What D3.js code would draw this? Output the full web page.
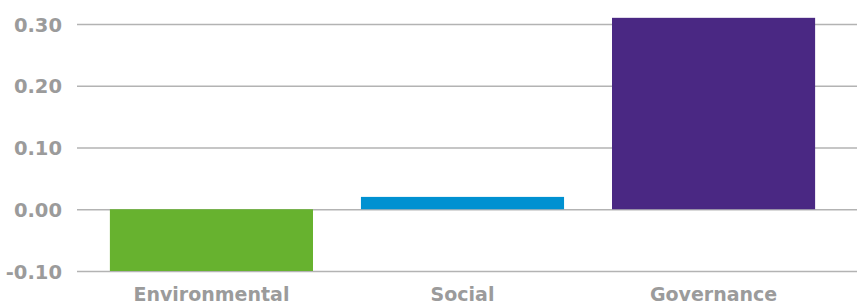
<!DOCTYPE html>
<html><head><meta charset="utf-8">
<script src="https://cdn.jsdelivr.net/npm/d3@7"></script>
<style>body{margin:0;background:#fff}svg{display:block}</style>
</head><body><svg id="c" width="857" height="307"></svg>
<script>
const categories = ["Environmental", "Social", "Governance"];
const values = [-0.10, 0.02, 0.31];
const colors = ["#67b22f", "#0091d1", "#4a2883"];
const yTicks = [-0.10, 0.00, 0.10, 0.20, 0.30];

const svg = d3.select("#c");
const x = d3.scaleBand().domain(categories).range([77, 848]).paddingInner(0.191).paddingOuter(0.131);
const y = d3.scaleLinear().domain([-0.1, 0.3]).range([271, 24]);

const fmt = d => d3.format(".2f")(d).replace("\u2212", "-");
const yAxis = d3.axisLeft(y).tickValues(yTicks).tickFormat(fmt).tickSize(780);
const gy = svg.append("g").attr("transform", "translate(857,0)").call(yAxis);
gy.select(".domain").remove();
gy.selectAll(".tick line").attr("stroke", "#b3b3b3").attr("stroke-width", 1.5);
gy.selectAll(".tick text").attr("fill", "#9b9b9b").attr("font-family", "'DejaVu Sans', sans-serif")
  .attr("font-weight", "bold").attr("font-size", 19.5).attr("x", -795).attr("dy", "0.36em");

svg.append("g").selectAll("rect").data(values).join("rect")
  .attr("x", (d, i) => x(categories[i]))
  .attr("width", x.bandwidth())
  .attr("y", d => y(Math.max(0, d)))
  .attr("height", d => Math.abs(y(d) - y(0)))
  .attr("fill", (d, i) => colors[i]);

const gx = svg.append("g").attr("transform", `translate(0,${y(-0.1)})`).call(d3.axisBottom(x).tickSize(0).tickPadding(17));
gx.select(".domain").remove();
gx.selectAll(".tick text").attr("fill", "#9b9b9b").attr("font-family", "'DejaVu Sans', sans-serif")
  .attr("font-weight", "bold").attr("font-size", 19).attr("dy", "0.71em");
</script></body></html>
